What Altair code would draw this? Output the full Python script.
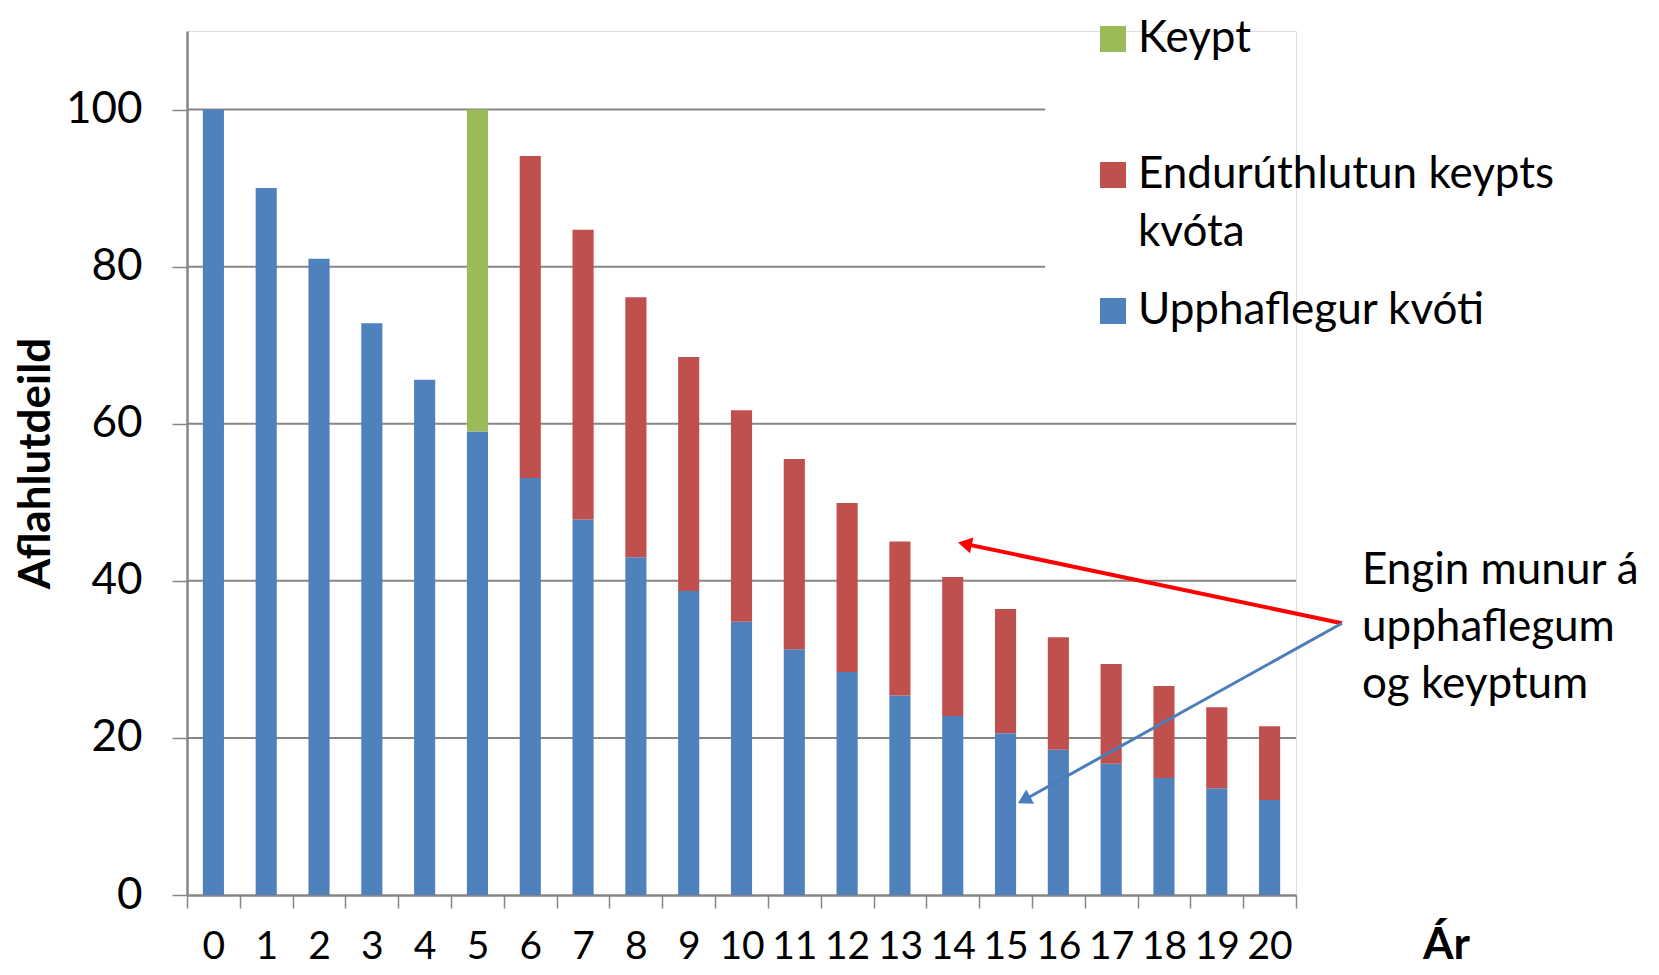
import altair as alt
import pandas as pd

years = list(range(21))
upphaflegur = [100, 90, 81, 72.8, 65.6, 59.0, 53.1, 47.8, 43.0, 38.7, 34.8,
               31.3, 28.4, 25.4, 22.8, 20.6, 18.5, 16.7, 14.9, 13.6, 12.1]
keypt = [0, 0, 0, 0, 0, 41.0, 0, 0, 0, 0, 0, 0, 0, 0, 0, 0, 0, 0, 0, 0, 0]
enduruthlutun = [0, 0, 0, 0, 0, 0, 41.0, 36.9, 33.1, 29.8, 26.9,
                 24.2, 21.5, 19.6, 17.7, 15.8, 14.3, 12.7, 11.7, 10.3, 9.4]

series_names = ["Keypt", "Endurúthlutun keypts kvóta", "Upphaflegur kvóti"]
series_colors = ["#9BBB59", "#C0504D", "#4F81BD"]

y_ticks = [0, 20, 40, 60, 80, 100]
grid_values = [20, 40, 60, 80, 100]
grid_end = [21, 21, 21, 16.25, 16.25]

note_text = "Engin munur á\nupphaflegum\nog keyptum"

FONT = "Lato"
GRAY = "#868686"

rows = []
for i, y in enumerate(years):
    rows.append({"year": y, "series": series_names[2], "value": upphaflegur[i], "ord": 0})
    if enduruthlutun[i] > 0:
        rows.append({"year": y, "series": series_names[1], "value": enduruthlutun[i], "ord": 1})
    if keypt[i] > 0:
        rows.append({"year": y, "series": series_names[0], "value": keypt[i], "ord": 1})
df = pd.DataFrame(rows)

yscale = alt.Scale(domain=[0, 110], nice=False, zero=True)
qscale = alt.Scale(domain=[0, 21], nice=False, zero=False)

bars = alt.Chart(df).mark_bar(width=alt.RelativeBandSize(0.4)).encode(
    x=alt.X("year:O", scale=alt.Scale(paddingInner=0, paddingOuter=0),
            axis=alt.Axis(title="Ár", titleX=1259, titleY=50, titleFontSize=44,
                          titleFont=FONT, titleFontWeight="bold", titleBaseline="middle",
                          titleAlign="center", titleColor="black",
                          labelFontSize=39, labelAngle=0, labelFont=FONT, labelColor="black",
                          labelPadding=19, tickBand="extent", tickSize=13, tickColor=GRAY,
                          tickWidth=1.5, domainColor=GRAY, domainWidth=2.5, grid=False)),
    y=alt.Y("value:Q", stack="zero", scale=yscale,
            axis=alt.Axis(values=y_ticks, title="Aflahlutdeild", titleFont=FONT,
                          titleFontSize=44, titleFontWeight="bold", titleColor="black",
                          titleX=-151, titleY=432, titleAngle=270, titleBaseline="middle",
                          titleAlign="center",
                          labelFont=FONT, labelFontSize=44, labelColor="black",
                          labelPadding=30, tickSize=15, tickColor=GRAY, tickWidth=1.5,
                          domainColor=GRAY, domainWidth=2.5, grid=False)),
    color=alt.Color("series:N", scale=alt.Scale(domain=series_names, range=series_colors),
                    legend=alt.Legend(title=None, orient="none", legendX=904, legendY=-14,
                                      symbolType="square", symbolSize=676,
                                      symbolStrokeWidth=0, labelFont=FONT,
                                      labelFontSize=44, labelColor="black",
                                      labelOffset=3, labelLimit=0, padding=0,
                                      rowPadding=34, gridAlign="all",
                                      labelExpr="datum.label == 'Endurúthlutun keypts kvóta' ? ['Endurúthlutun keypts', 'kvóta'] : datum.label")),
    order=alt.Order("ord:Q"),
)

grid_df = pd.DataFrame({"value": grid_values, "start": [0] * len(grid_values), "end": grid_end})
grid = alt.Chart(grid_df).mark_rule(color=GRAY, strokeWidth=2).encode(
    x=alt.X("start:Q", scale=qscale, axis=None),
    x2="end:Q",
    y=alt.Y("value:Q", scale=yscale),
)

def arrow(x0, y0, x1, y1, color, width, ang):
    d = pd.DataFrame({"x": [x0, x1], "y": [y0, y1], "k": [0, 1]})
    line = alt.Chart(d).mark_line(color=color, strokeWidth=width).encode(
        x=alt.X("x:Q", scale=qscale, axis=None),
        y=alt.Y("y:Q", scale=yscale),
        order="k:Q",
    )
    head = alt.Chart(pd.DataFrame({"x": [x1], "y": [y1]})).mark_point(
        shape="triangle-up", filled=True, color=color, size=260, angle=ang, opacity=1
    ).encode(
        x=alt.X("x:Q", scale=qscale, axis=None),
        y=alt.Y("y:Q", scale=yscale),
    )
    return line, head

red_line, red_head = arrow(21.87, 34.6, 14.73, 44.7, "#FF0000", 4, 282)
blue_line, blue_head = arrow(21.87, 34.6, 15.85, 12.1, "#4A7EBB", 3, 241)

note = alt.Chart(pd.DataFrame({"x": [22.25], "y": [44.05], "t": [note_text]})).mark_text(
    align="left", baseline="top", font=FONT, fontSize=44, lineHeight=57,
    lineBreak="\n", color="black"
).encode(
    x=alt.X("x:Q", scale=qscale, axis=None),
    y=alt.Y("y:Q", scale=yscale),
    text="t:N",
)

chart = alt.layer(grid, bars, red_line, red_head, blue_line, blue_head, note).resolve_scale(
    x="independent"
).properties(
    width=1109, height=864,
    autosize=alt.AutoSizeParams(type="none"),
    padding={"left": 179, "top": 23, "right": 355, "bottom": 72},
).configure_view(stroke=None).configure(style={"guide-label": {"lineHeight": 58}})

chart.save("out.html", embed_options={"renderer": "svg", "actions": False})
